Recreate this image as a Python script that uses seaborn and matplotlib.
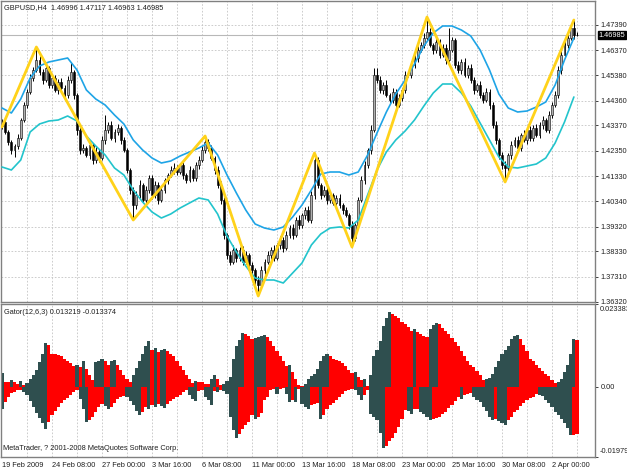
import numpy as np
import pandas as pd
import seaborn as sns
import matplotlib.pyplot as plt
import matplotlib.transforms as mtransforms

sns.set_style("white")
plt.rcParams['font.family'] = ['Liberation Sans', 'DejaVu Sans']

# %%
# GBPUSD H4 candles
first_open = 1.4335
closes = [1.4351, 1.4311, 1.4271, 1.4239, 1.4255, 1.4287, 1.4359, 1.4419, 1.4471, 1.4527,
          1.4559, 1.4599, 1.4551, 1.4519, 1.4567, 1.4499, 1.4527, 1.4479, 1.4511, 1.4487,
          1.4459, 1.4519, 1.4551, 1.4459, 1.4319, 1.4239, 1.4247, 1.4219, 1.4259, 1.4199,
          1.4231, 1.4207, 1.4279, 1.4319, 1.4339, 1.4287, 1.4311, 1.4327, 1.4279, 1.4239,
          1.4159, 1.4079, 1.4019, 1.4059, 1.4099, 1.4039, 1.4079, 1.4127, 1.4059, 1.4099,
          1.4039, 1.4079, 1.4119, 1.4139, 1.4159, 1.4167, 1.4151, 1.4179, 1.4139, 1.4119,
          1.4159, 1.4127, 1.4179, 1.4199, 1.4239, 1.4271, 1.4247, 1.4207, 1.4159, 1.4099,
          1.4039, 1.3899, 1.3819, 1.3791, 1.3839, 1.3807, 1.3839, 1.3791, 1.3819, 1.3779,
          1.3759, 1.3719, 1.3699, 1.3759, 1.3791, 1.3819, 1.3839, 1.3807, 1.3859, 1.3879,
          1.3847, 1.3899, 1.3927, 1.3899, 1.3959, 1.3939, 1.3979, 1.3999, 1.3959, 1.4059,
          1.4199, 1.4099, 1.4059, 1.4079, 1.4039, 1.4059, 1.4027, 1.4047, 1.4019, 1.3999,
          1.3979, 1.3939, 1.3887, 1.3939, 1.4039, 1.4119, 1.4179, 1.4239, 1.4319, 1.4539,
          1.4519, 1.4479, 1.4499, 1.4459, 1.4439, 1.4471, 1.4419, 1.4447, 1.4479, 1.4539,
          1.4539, 1.4579, 1.4607, 1.4639, 1.4659, 1.4687, 1.4711, 1.4659, 1.4639, 1.4671,
          1.4619, 1.4647, 1.4599, 1.4639, 1.4679, 1.4579, 1.4559, 1.4591, 1.4539, 1.4567,
          1.4519, 1.4479, 1.4499, 1.4459, 1.4439, 1.4471, 1.4419, 1.4339, 1.4279, 1.4219,
          1.4179, 1.4167, 1.4219, 1.4259, 1.4279, 1.4247, 1.4299, 1.4279, 1.4319, 1.4287,
          1.4327, 1.4299, 1.4339, 1.4359, 1.4319, 1.4379, 1.4419, 1.4459, 1.4559, 1.4619,
          1.4659, 1.4687, 1.4727, 1.46996, 1.46985]

# wicks above / below the body, in pips
wick_up = [10, 12, 8, 6, 10, 14, 8, 12, 10, 14,
           12, 52, 16, 10, 18, 8, 14, 12, 10, 16,
           12, 14, 40, 8, 10, 12, 16, 8, 14, 10,
           18, 10, 14, 60, 12, 16, 10, 14, 8, 12,
           10, 8, 12, 14, 20, 10, 16, 12, 10, 14,
           12, 16, 10, 8, 14, 20, 12, 10, 16, 8,
           14, 10, 12, 16, 14, 24, 10, 12, 8, 14,
           16, 12, 10, 14, 18, 10, 12, 16, 14, 10,
           12, 8, 14, 16, 10, 14, 12, 18, 10, 14,
           12, 16, 10, 14, 12, 18, 10, 12, 16, 14,
           28, 12, 10, 14, 12, 16, 10, 12, 14, 10,
           12, 8, 14, 10, 12, 16, 14, 10, 18, 30,
           30, 14, 12, 18, 10, 14, 12, 16, 10, 14,
           12, 16, 10, 14, 12, 18, 60, 14, 10, 16,
           12, 14, 16, 90, 12, 10, 14, 12, 16, 10,
           14, 12, 10, 16, 12, 14, 10, 12, 16, 10,
           12, 14, 10, 16, 12, 14, 10, 18, 12, 14,
           10, 14, 12, 16, 10, 14, 12, 16, 14, 18,
           20, 16, 18, 32, 12.1]
wick_dn = [14, 10, 12, 16, 30, 12, 10, 8, 12, 10,
           14, 10, 12, 16, 10, 14, 12, 10, 16, 12,
           10, 14, 12, 16, 20, 14, 12, 10, 16, 14,
           12, 16, 10, 14, 12, 10, 16, 12, 14, 10,
           12, 14, 60, 16, 12, 10, 14, 12, 16, 12,
           14, 10, 12, 16, 10, 14, 12, 10, 14, 12,
           10, 14, 12, 16, 10, 12, 14, 10, 16, 12,
           14, 16, 18, 12, 10, 16, 14, 12, 10, 16,
           14, 20, 44, 12, 16, 10, 14, 12, 10, 14,
           16, 10, 12, 14, 10, 16, 12, 14, 10, 12,
           14, 12, 16, 10, 14, 12, 10, 16, 12, 14,
           10, 16, 36, 14, 12, 10, 16, 12, 14, 10,
           14, 12, 16, 10, 14, 12, 18, 10, 14, 12,
           10, 14, 12, 16, 10, 14, 12, 10, 16, 12,
           14, 10, 16, 12, 10, 14, 12, 16, 10, 14,
           12, 16, 10, 14, 12, 10, 16, 12, 14, 18,
           14, 56, 12, 16, 10, 14, 12, 10, 16, 12,
           14, 10, 12, 16, 10, 12, 14, 10, 12, 16,
           12, 14, 10, 16, 2.2]

# envelope lines, every third bar
band_idx = list(range(0, 185, 3))
band_upper = [1.4407, 1.4387, 1.4443, 1.4527, 1.4575, 1.4591, 1.4599, 1.4607, 1.4559, 1.4479,
              1.4443, 1.4419, 1.4379, 1.4343, 1.4279, 1.4239, 1.4207, 1.4187, 1.4195, 1.4215,
              1.4231, 1.4247, 1.4267, 1.4219, 1.4139, 1.4067, 1.3999, 1.3943, 1.3927, 1.3919,
              1.3931, 1.3971, 1.4019, 1.4079, 1.4143, 1.4151, 1.4151, 1.4139, 1.4151, 1.4219,
              1.4307, 1.4391, 1.4463, 1.4519, 1.4583, 1.4655, 1.4707, 1.4735, 1.4735, 1.4719,
              1.4695, 1.4639, 1.4559, 1.4463, 1.4407, 1.4391, 1.4395, 1.4411, 1.4431, 1.4499,
              1.4599, 1.4687]
band_lower = [1.4171, 1.4159, 1.4199, 1.4311, 1.4343, 1.4355, 1.4359, 1.4375, 1.4355, 1.4295,
              1.4255, 1.4219, 1.4167, 1.4139, 1.4079, 1.4031, 1.3991, 1.3967, 1.3983, 1.4007,
              1.4027, 1.4047, 1.4039, 1.3983, 1.3895, 1.3831, 1.3775, 1.3727, 1.3719, 1.3719,
              1.3707, 1.3747, 1.3787, 1.3859, 1.3903, 1.3927, 1.3931, 1.3927, 1.3959, 1.4059,
              1.4159, 1.4231, 1.4279, 1.4315, 1.4359, 1.4415, 1.4467, 1.4503, 1.4503, 1.4467,
              1.4415, 1.4347, 1.4279, 1.4211, 1.4171, 1.4167, 1.4175, 1.4183, 1.4207, 1.4267,
              1.4351, 1.4451]

# zigzag swing points (bar index, price)
zz_idx = [0, 11, 42, 65, 82, 100, 112, 136, 161, 183]
zz_price = [1.4331, 1.4651, 1.3959, 1.4295, 1.3655, 1.4227, 1.3851, 1.4771, 1.4111, 1.4759]

# Gator(12,6,3) histograms, in units of 1e-3
gator_upper_e3 = [4.0, 1.4, 1.4, 2.0, 1.4, 0.9, 1.7, 0.6, 1.1, 2.3,
                  3.4, 4.9, 6.9, 9.4, 12.3, 11.7, 9.4, 9.2, 8.9, 8.6,
                  8.0, 7.4, 6.6, 6.0, 6.3, 5.7, 7.4, 5.1, 3.4, 2.0,
                  6.9, 7.4, 8.0, 7.2, 6.3, 7.2, 7.7, 6.3, 4.9, 3.4,
                  2.3, 1.4, 3.4, 5.4, 7.4, 9.4, 11.4, 12.9, 10.3, 10.9,
                  9.7, 10.3, 10.6, 10.0, 9.4, 8.6, 7.2, 6.0, 4.9, 3.4,
                  2.3, 1.1, 1.7, 1.4, 1.4, 0.9, 0.9, 2.3, 3.4, 2.3,
                  0.6, 0.9, 1.7, 2.9, 8.0, 11.4, 13.2, 15.2, 14.9, 14.3,
                  13.4, 13.7, 14.0, 14.3, 14.6, 14.0, 12.9, 11.4, 10.0, 8.6,
                  7.2, 6.0, 6.3, 4.3, 2.3, 0.6, 0.3, 0.9, 2.3, 3.1,
                  3.7, 5.1, 7.2, 8.6, 9.2, 8.6, 8.0, 7.7, 7.2, 6.6,
                  6.0, 4.9, 4.0, 4.3, 2.9, 2.0, 2.3, 0.3, 3.4, 8.6,
                  10.3, 12.9, 17.2, 19.4, 21.2, 20.6, 20.0, 19.4, 18.3, 17.7,
                  16.9, 15.7, 16.3, 15.4, 14.9, 14.3, 14.0, 16.3, 17.4, 18.0,
                  17.7, 16.6, 15.7, 14.9, 13.7, 12.6, 11.4, 10.0, 8.6, 7.2,
                  6.3, 5.7, 4.6, 3.4, 2.0, 2.3, 2.6, 3.7, 5.7, 7.4,
                  9.2, 10.3, 11.4, 13.4, 14.3, 14.6, 13.4, 11.7, 10.0, 8.0,
                  7.2, 6.3, 5.4, 4.6, 3.7, 3.1, 2.0, 1.1, 1.4, 2.3,
                  4.3, 6.3, 9.2, 13.4, 13.219]
gator_lower_e3 = [6.3, 4.3, 2.9, 1.7, 1.4, 0.9, 0.9, 1.4, 2.3, 4.0,
                  5.7, 7.4, 8.9, 10.3, 12.0, 10.0, 8.0, 6.9, 5.7, 4.6,
                  3.7, 3.1, 2.3, 1.4, 0.9, 3.4, 6.3, 10.0, 9.4, 8.6,
                  7.2, 5.7, 4.9, 5.4, 6.3, 5.7, 4.6, 3.4, 2.9, 2.6,
                  2.9, 4.0, 5.1, 6.9, 8.0, 7.2, 5.7, 6.3, 5.1, 5.7,
                  4.9, 5.4, 6.0, 4.9, 4.0, 3.4, 2.9, 2.3, 1.4, 0.9,
                  2.3, 3.4, 4.0, 1.1, 0.9, 2.9, 3.7, 5.1, 1.1, 1.4,
                  0.9, 1.1, 2.0, 8.6, 12.3, 14.3, 13.4, 12.0, 10.9, 10.0,
                  8.0, 9.2, 8.6, 7.4, 3.7, 2.9, 0.9, 0.6, 2.0, 0.6,
                  0.3, 2.0, 4.3, 3.7, 4.3, 0.6, 4.9, 5.7, 6.3, 5.1,
                  4.9, 4.6, 9.2, 8.0, 6.3, 5.1, 4.6, 3.7, 2.9, 2.0,
                  1.1, 0.9, 0.6, 0.9, 2.3, 3.7, 2.3, 0.9, 7.7, 8.6,
                  9.4, 12.9, 17.2, 16.6, 15.4, 14.3, 12.9, 11.4, 9.2, 6.6,
                  6.9, 7.7, 6.3, 6.3, 7.2, 7.7, 8.6, 9.4, 9.2, 8.9,
                  8.6, 7.7, 7.2, 6.0, 5.1, 4.0, 2.9, 3.4, 2.3, 2.0,
                  1.7, 2.9, 3.7, 4.3, 5.7, 6.9, 8.6, 9.4, 9.2, 9.7,
                  10.3, 10.9, 9.4, 8.6, 7.2, 6.6, 5.4, 4.6, 3.7, 3.1,
                  2.9, 2.0, 2.3, 2.6, 3.7, 4.6, 5.7, 7.2, 8.0, 9.2,
                  10.3, 11.7, 13.7, 13.6, 13.374]

price_ticks = [1.47390, 1.46370, 1.45380, 1.44360, 1.43370, 1.42350,
               1.41330, 1.40340, 1.39320, 1.38330, 1.37310, 1.36320]
gator_max = 0.023383
gator_min = -0.01979
date_labels = ["19 Feb 2009", "24 Feb 08:00", "27 Feb 00:00", "3 Mar 16:00",
               "6 Mar 08:00", "11 Mar 00:00", "13 Mar 16:00", "18 Mar 08:00",
               "23 Mar 00:00", "25 Mar 16:00", "30 Mar 08:00", "2 Apr 00:00"]
last_price = 1.46985

# %%
closes = np.array(closes)
opens = np.r_[first_open, closes[:-1]]
idx = np.arange(len(closes))
highs = np.maximum(opens, closes) + np.array(wick_up) * 1e-4
lows = np.minimum(opens, closes) - np.array(wick_dn) * 1e-4

fig = plt.figure(figsize=(6.27, 4.70), dpi=100)
ax = fig.add_axes([1 / 627, 1 - 302 / 470, 594 / 627, 301 / 470])
ax2 = fig.add_axes([1 / 627, 1 - 457 / 470, 594 / 627, 153 / 470])
xlim = (-0.32, 189.76)
fs = 5.3
grid_kw = dict(color='#c4c4c4', lw=0.6, linestyle=(0, (2, 2)), zorder=0)

# %%
# price panel
ax.axhline(last_price, color='#b8b8b8', lw=0.8, zorder=1)
ax.vlines(idx, lows, highs, color='black', lw=0.7, zorder=2)
bull = closes >= opens
ax.bar(idx, np.maximum(np.abs(closes - opens), 0.00008), bottom=np.minimum(opens, closes),
       width=0.62, color=np.where(bull, '#b0b0b0', 'black'), edgecolor='black',
       linewidth=0.4, zorder=2)

sns.lineplot(x=band_idx, y=band_upper, ax=ax, color='#1ea4e6', lw=1.2, zorder=3)
sns.lineplot(x=band_idx, y=band_lower, ax=ax, color='#22c4cc', lw=1.2, zorder=3)
sns.lineplot(x=zz_idx, y=zz_price, ax=ax, color='#ffd21a', lw=2.0, zorder=4, sort=False)

ax.set_xlim(xlim)
ax.set_ylim(1.3631, 1.4835)
for p in price_ticks:
    ax.axhline(p, **grid_kw)
for g in range(8, 190, 8):
    ax.axvline(g, **grid_kw)
    ax2.axvline(g, **grid_kw)
ax.yaxis.tick_right()
ax.set_yticks(price_ticks)
ax.set_yticklabels([f'{p:.5f}' for p in price_ticks], fontsize=fs)
ax.tick_params(axis='y', length=2, pad=2, colors='#202020', width=0.6)
ax.set_xticks([])
ax.text(1.006, last_price, f'{last_price:.5f}', color='white', fontsize=fs,
        transform=mtransforms.blended_transform_factory(ax.transAxes, ax.transData),
        va='center', ha='left',
        bbox=dict(facecolor='black', edgecolor='black', pad=0.6))

# %%
# gator panel
up_vals = np.array(gator_upper_e3) * 1e-3
lo_vals = np.array(gator_lower_e3) * 1e-3
up_cols, lo_cols = [], []
for i in range(len(idx)):
    if i == 0:
        up_cols.append('#2f4f4f')
        lo_cols.append('#2f4f4f')
        continue
    up_cols.append('#2f4f4f' if up_vals[i] > up_vals[i - 1] else
                   ('#ff0000' if up_vals[i] < up_vals[i - 1] else up_cols[-1]))
    lo_cols.append('#2f4f4f' if lo_vals[i] > lo_vals[i - 1] else
                   ('#ff0000' if lo_vals[i] < lo_vals[i - 1] else lo_cols[-1]))
ax2.bar(idx, up_vals, width=1.0, color=up_cols, linewidth=0, zorder=2)
ax2.bar(idx, -lo_vals, width=1.0, color=lo_cols, linewidth=0, zorder=2)
ax2.set_xlim(xlim)
ax2.set_ylim(gator_min, gator_max)
ax2.yaxis.tick_right()
ax2.set_yticks([gator_max, 0.0, gator_min])
ax2.set_yticklabels(['', '0.00', ''], fontsize=fs)
ax2.tick_params(axis='y', length=2, pad=2, colors='#202020', width=0.6)
# end labels sit inside the panel edges, as in the terminal
ax2.text(1.0084, 0.961, f'{gator_max:.6f}', transform=ax2.transAxes,
         fontsize=fs, va='center', ha='left', color='#202020', clip_on=False)
ax2.text(1.0084, 0.039, f'{gator_min:.5f}', transform=ax2.transAxes,
         fontsize=fs, va='center', ha='left', color='#202020', clip_on=False)
ax2.set_xticks(list(range(0, 177, 16)))
ax2.set_xticklabels(date_labels, fontsize=fs, ha='left')
ax2.tick_params(axis='x', length=2, pad=1.5, colors='#202020', width=0.6)

for a in (ax, ax2):
    for s in a.spines.values():
        s.set_color('#808080')
        s.set_linewidth(1.0)

fig.text(4 / 627, 1 - 8 / 470, 'GBPUSD,H4  1.46996 1.47117 1.46963 1.46985',
         fontsize=fs, va='center', color='#202020')
fig.text(4 / 627, 1 - 313 / 470, 'Gator(12,6,3) 0.013219 -0.013374',
         fontsize=fs, va='center', color='#202020')
fig.text(3 / 627, 1 - 449 / 470, 'MetaTrader, ? 2001-2008 MetaQuotes Software Corp.',
         fontsize=fs, va='center', color='#202020')

fig.savefig('out.png', dpi=100)
